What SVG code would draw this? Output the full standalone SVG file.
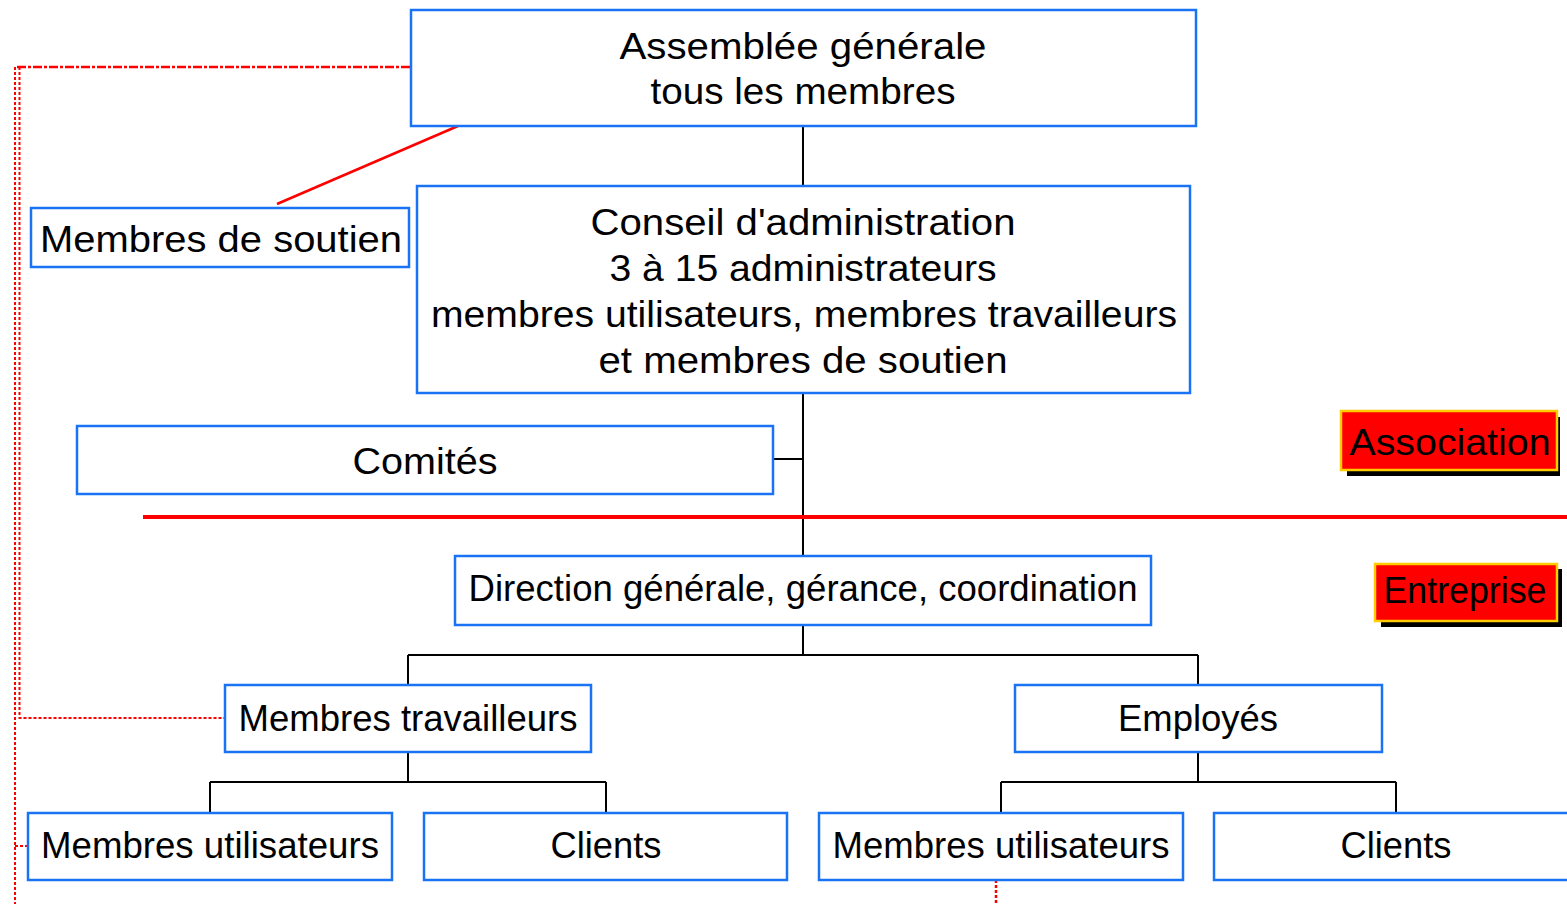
<svg xmlns="http://www.w3.org/2000/svg" width="1567" height="904" viewBox="0 0 1567 904">
<style>
.box{fill:#fff;stroke:#1a73f5;stroke-width:2.5}
.t{font-family:"Liberation Sans",Arial,sans-serif;font-size:36px;fill:#000;text-anchor:middle}
.conn{stroke:#000;stroke-width:2;fill:none}
.red{stroke:#ff0000;fill:none}
.lab{fill:#ff0000;stroke:#ffcc00;stroke-width:2.5}
.sh{fill:#000}
</style>
<rect width="1567" height="904" fill="#fff"/>
<g id="connectors">
<path class="conn" d="M803,126V186M803,393V555M773,459H803M803,625V655M408,655H1198M408,655V685M1198,655V685M408,752V782M210,782H606M210,782V813M606,782V813M1198,752V782M1001,782H1396M1001,782V813M1396,782V813"/>
<line class="red" x1="277" y1="204" x2="458" y2="126" stroke-width="2.5"/>
<line class="red" x1="143" y1="517" x2="1567" y2="517" stroke-width="4"/>
<path class="red" d="M17,67H411" stroke-width="2.5" stroke-dasharray="9 2 3 2"/>
<path class="red" d="M15,67V904" stroke-width="2" stroke-dasharray="3 2"/>
<path class="red" d="M19.5,67V718H225" stroke-width="2" stroke-dasharray="3 2"/>
<path class="red" d="M15,846H28" stroke-width="2" stroke-dasharray="3 2"/>
<path class="red" d="M996,880V904" stroke-width="2.5" stroke-dasharray="3 2"/>
</g>
<g id="assemblee">
<rect class="box" x="411" y="10" width="785" height="116"/>
<text class="t" x="803" y="59" textLength="367" lengthAdjust="spacingAndGlyphs">Assemblée générale</text>
<text class="t" x="803" y="104" textLength="305" lengthAdjust="spacingAndGlyphs">tous les membres</text>
</g>
<g id="membres-soutien">
<rect class="box" x="31" y="208" width="378" height="59"/>
<text class="t" x="221" y="252" textLength="362" lengthAdjust="spacingAndGlyphs">Membres de soutien</text>
</g>
<g id="conseil">
<rect class="box" x="417" y="186" width="773" height="207"/>
<text class="t" x="803" y="235" textLength="425" lengthAdjust="spacingAndGlyphs">Conseil d'administration</text>
<text class="t" x="803" y="281" textLength="387" lengthAdjust="spacingAndGlyphs">3 à 15 administrateurs</text>
<text class="t" x="804" y="327" textLength="746" lengthAdjust="spacingAndGlyphs">membres utilisateurs, membres travailleurs</text>
<text class="t" x="803" y="373" textLength="409" lengthAdjust="spacingAndGlyphs">et membres de soutien</text>
</g>
<g id="comites">
<rect class="box" x="77" y="426" width="696" height="68"/>
<text class="t" x="425" y="474" textLength="145" lengthAdjust="spacingAndGlyphs">Comités</text>
</g>
<g id="association">
<rect class="sh" x="1347" y="417" width="213" height="59"/>
<rect class="lab" x="1341" y="411" width="216" height="59"/>
<text class="t" x="1450" y="455" textLength="201" lengthAdjust="spacingAndGlyphs">Association</text>
</g>
<g id="entreprise">
<rect class="sh" x="1381" y="569" width="181" height="58"/>
<rect class="lab" x="1375" y="564" width="182" height="57"/>
<text class="t" x="1465" y="603" textLength="163" lengthAdjust="spacingAndGlyphs">Entreprise</text>
</g>
<g id="direction">
<rect class="box" x="455" y="556" width="696" height="69"/>
<text class="t" x="803" y="601" textLength="669" lengthAdjust="spacingAndGlyphs">Direction générale, gérance, coordination</text>
</g>
<g id="membres-travailleurs">
<rect class="box" x="225" y="685" width="366" height="67"/>
<text class="t" x="408" y="731" textLength="339" lengthAdjust="spacingAndGlyphs">Membres travailleurs</text>
</g>
<g id="employes">
<rect class="box" x="1015" y="685" width="367" height="67"/>
<text class="t" x="1198" y="731" textLength="160" lengthAdjust="spacingAndGlyphs">Employés</text>
</g>
<g id="membres-utilisateurs-1">
<rect class="box" x="28" y="813" width="364" height="67"/>
<text class="t" x="210" y="858" textLength="338" lengthAdjust="spacingAndGlyphs">Membres utilisateurs</text>
</g>
<g id="clients-1">
<rect class="box" x="424" y="813" width="363" height="67"/>
<text class="t" x="606" y="858" textLength="111" lengthAdjust="spacingAndGlyphs">Clients</text>
</g>
<g id="membres-utilisateurs-2">
<rect class="box" x="819" y="813" width="364" height="67"/>
<text class="t" x="1001" y="858" textLength="337" lengthAdjust="spacingAndGlyphs">Membres utilisateurs</text>
</g>
<g id="clients-2">
<rect class="box" x="1214" y="813" width="363" height="67"/>
<text class="t" x="1396" y="858" textLength="111" lengthAdjust="spacingAndGlyphs">Clients</text>
</g>
</svg>
